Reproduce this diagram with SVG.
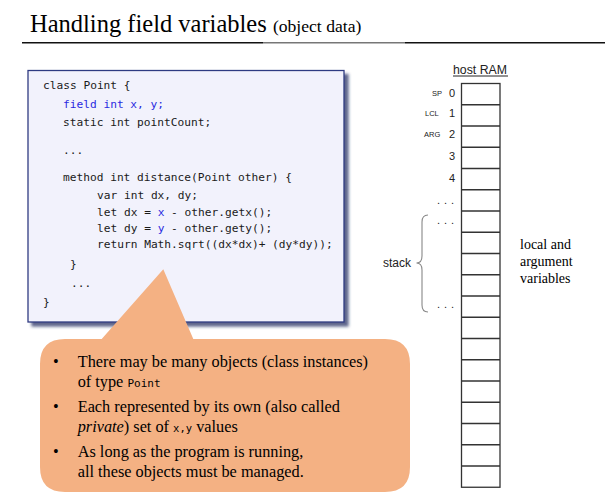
<svg xmlns="http://www.w3.org/2000/svg" width="605" height="499" viewBox="0 0 605 499">
<defs>
<filter id="shadow" x="-5%" y="-5%" width="115%" height="115%">
<feDropShadow dx="4" dy="4" stdDeviation="1.6" flood-color="#2a3366" flood-opacity="0.75"/>
</filter>
</defs>
<style>
.serif{font-family:"Liberation Serif","Times New Roman",serif;fill:#000}
.sans{font-family:"Liberation Sans",Arial,sans-serif;fill:#222}
.code{font-family:"DejaVu Sans Mono","Liberation Mono",monospace;font-size:11.2px;fill:#1a1a1a}
.blue{fill:#2a2ae0}
.mono{font-family:"DejaVu Sans Mono","Liberation Mono",monospace}
.cell{fill:#fff;stroke:#333;stroke-width:1.3}
.row{stroke:#333;stroke-width:1.3}
</style>
<rect width="605" height="499" fill="#fff"/>
<g id="title">
<text class="serif" x="30" y="31.7" font-size="24.5">Handling field variables <tspan font-size="17.6">(object data)</tspan></text>
<line x1="22" y1="42.7" x2="263" y2="42.7" stroke="#111" stroke-width="1.4"/>
<line x1="263" y1="42.7" x2="405" y2="42.7" stroke="#777" stroke-width="1.4"/>
<line x1="405" y1="42.7" x2="605" y2="42.7" stroke="#111" stroke-width="1.4"/>
</g>
<g id="code-box">
<rect x="28" y="70.5" width="316" height="251.5" fill="#f2f2fc" stroke="#2f3b82" stroke-width="1.3" filter="url(#shadow)"/>
<text class="code" x="43" y="89">class Point {</text>
<text class="code blue" x="63" y="108">field int x, y;</text>
<text class="code" x="63" y="126">static int pointCount;</text>
<text class="code" x="63" y="154">...</text>
<text class="code" x="63" y="181">method int distance(Point other) {</text>
<text class="code" x="97" y="199">var int dx, dy;</text>
<text class="code" x="97" y="216">let dx = <tspan class="blue">x</tspan> - other.getx();</text>
<text class="code" x="97" y="232">let dy = <tspan class="blue">y</tspan> - other.gety();</text>
<text class="code" x="97" y="248">return Math.sqrt((dx*dx)+ (dy*dy));</text>
<text class="code" x="70" y="268">}</text>
<text class="code" x="71" y="287">...</text>
<text class="code" x="43" y="306">}</text>
</g>
<g id="callout">
<path d="M65,339 L101.7,339 L163.3,269.3 L193.3,339 L385,339 Q410,339 410,364 L410,467 Q410,492 385,492 L65,492 Q40,492 40,467 L40,364 Q40,339 65,339 Z" fill="#f4b183"/>
<g class="serif" font-size="16.3">
<text x="53" y="367">•</text>
<text x="77.7" y="367">There may be many objects (class instances)</text>
<text x="77.7" y="387">of type <tspan class="mono" font-size="11">Point</tspan></text>
<text x="53" y="412">•</text>
<text x="77.7" y="412">Each represented by its own (also called</text>
<text x="77.7" y="432"><tspan font-style="italic">private</tspan>) set of <tspan class="mono" font-size="10.5">x,y</tspan> values</text>
<text x="53" y="457">•</text>
<text x="77.7" y="457">As long as the program is running,</text>
<text x="77.7" y="477">all these objects must be managed.</text>
</g>
</g>
<g id="host-ram">
<text class="sans" x="453" y="74" font-size="12.3">host RAM</text>
<line x1="453" y1="76" x2="508" y2="76" stroke="#222" stroke-width="1"/>
<rect class="cell" x="461.5" y="83.5" width="38.5" height="403.75"/>
<g class="row">
<line x1="461.5" y1="104.75" x2="500" y2="104.75"/>
<line x1="461.5" y1="126" x2="500" y2="126"/>
<line x1="461.5" y1="147.25" x2="500" y2="147.25"/>
<line x1="461.5" y1="168.5" x2="500" y2="168.5"/>
<line x1="461.5" y1="189.75" x2="500" y2="189.75"/>
<line x1="461.5" y1="211" x2="500" y2="211"/>
<line x1="461.5" y1="232.25" x2="500" y2="232.25"/>
<line x1="461.5" y1="253.5" x2="500" y2="253.5"/>
<line x1="461.5" y1="274.75" x2="500" y2="274.75"/>
<line x1="461.5" y1="296" x2="500" y2="296"/>
<line x1="461.5" y1="317.25" x2="500" y2="317.25"/>
<line x1="461.5" y1="338.5" x2="500" y2="338.5"/>
<line x1="461.5" y1="359.75" x2="500" y2="359.75"/>
<line x1="461.5" y1="381" x2="500" y2="381"/>
<line x1="461.5" y1="402.25" x2="500" y2="402.25"/>
<line x1="461.5" y1="423.5" x2="500" y2="423.5"/>
<line x1="461.5" y1="444.75" x2="500" y2="444.75"/>
<line x1="461.5" y1="466" x2="500" y2="466"/>
</g>
<g class="sans" font-size="7.5">
<text x="432" y="95.5">SP</text>
<text x="425" y="116">LCL</text>
<text x="424" y="137">ARG</text>
</g>
<g class="sans" font-size="11">
<text x="449" y="96.7">0</text>
<text x="449" y="117">1</text>
<text x="449" y="138">2</text>
<text x="449" y="160">3</text>
<text x="449" y="181.5">4</text>
<text x="437" y="204" letter-spacing="4">...</text>
<text x="437" y="223.5" letter-spacing="4">...</text>
<text x="437" y="308" letter-spacing="4">...</text>
</g>
</g>
<g id="stack-brace">
<path d="M428,215 Q422,215 422,222 L422,256 Q422,263 416.5,263 Q422,263 422,270 L422,305 Q422,312 428,312" fill="none" stroke="#888" stroke-width="1.1"/>
<text class="sans" x="383" y="266.5" font-size="12">stack</text>
</g>
<g id="local-label" class="serif" font-size="14">
<text x="520" y="249">local and</text>
<text x="520" y="266">argument</text>
<text x="520" y="283">variables</text>
</g>
</svg>
